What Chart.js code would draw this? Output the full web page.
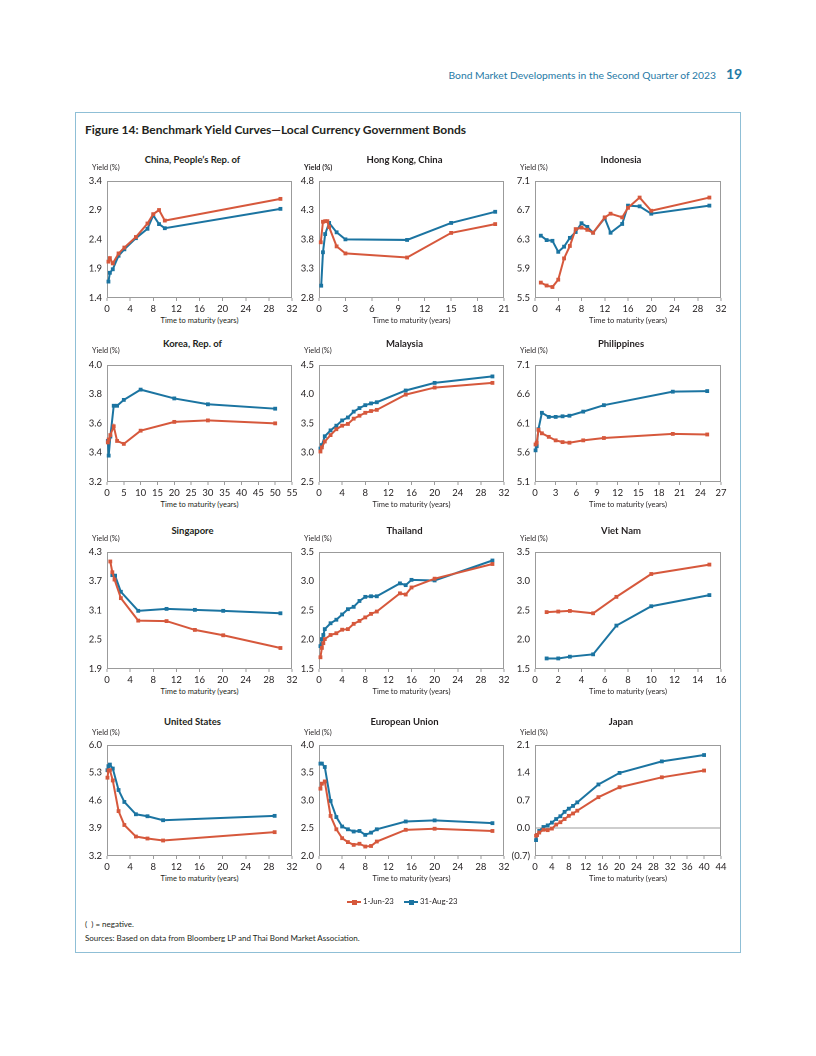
<!DOCTYPE html>
<html><head><meta charset="utf-8">
<script src="https://cdn.jsdelivr.net/npm/chart.js@4.4.1/dist/chart.umd.min.js"></script>
<style>
html,body{margin:0;padding:0;background:#fff;}
body{width:816px;height:1056px;position:relative;font-family:Lato,'Open Sans',sans-serif;color:#231f20;overflow:hidden;}
.abs{position:absolute;white-space:pre;line-height:1;}
canvas{position:absolute;}
</style></head>
<body>
<div class="abs" style="right:100px;top:70px;font-size:10.3px;color:#1f7aa6;">Bond Market Developments in the Second Quarter of 2023</div>
<div class="abs" style="left:726px;top:67px;font-size:14px;font-weight:bold;color:#1f7aa6;">19</div>
<div class="abs" style="left:75px;top:112px;width:664px;height:839px;border:1px solid #8fbfd6;"></div>
<div class="abs" style="left:85px;top:124px;font-size:12px;font-weight:bold;color:#231f20;">Figure 14: Benchmark Yield Curves—Local Currency Government Bonds</div>
<div class="abs" style="left:85px;top:920px;font-size:8px;color:#231f20;">(  ) = negative.</div>
<div class="abs" style="left:85px;top:934px;font-size:8px;color:#231f20;">Sources: Based on data from Bloomberg LP and Thai Bond Market Association.</div>
<script>
// ---------- DATA ----------
const seriesNames = ['1-Jun-23', '31-Aug-23'];

// China, People's Rep. of
const cnTenor = [0.25, 0.5, 1, 2, 3, 5, 7, 8, 9, 10, 30];
const cnJun = [2.02, 2.08, 1.99, 2.16, 2.26, 2.44, 2.67, 2.83, 2.90, 2.72, 3.09];
const cnAug = [1.68, 1.83, 1.89, 2.12, 2.23, 2.42, 2.58, 2.81, 2.66, 2.59, 2.92];

// Hong Kong, China
const hkTenorJun = [0.2, 0.45, 0.7, 0.95, 1.15, 2, 3, 10, 15, 20];
const hkJun = [3.75, 4.10, 4.11, 4.11, 4.01, 3.68, 3.56, 3.49, 3.91, 4.06];
const hkTenorAug = [0.25, 0.45, 0.7, 1.15, 2, 3, 10, 15, 20];
const hkAug = [3.01, 3.58, 3.89, 4.08, 3.92, 3.80, 3.79, 4.08, 4.27];

// Indonesia
const idTenor = [1, 2, 3, 4, 5, 6, 7, 8, 9, 10, 12, 13, 15, 16, 18, 20, 30];
const idJun = [5.71, 5.67, 5.65, 5.75, 6.04, 6.21, 6.44, 6.46, 6.43, 6.39, 6.60, 6.65, 6.60, 6.73, 6.87, 6.69, 6.87];
const idAug = [6.35, 6.29, 6.28, 6.13, 6.20, 6.32, 6.40, 6.52, 6.47, 6.39, 6.59, 6.39, 6.51, 6.76, 6.75, 6.65, 6.76];

// Korea, Rep. of
const krTenor = [0.25, 0.5, 1, 2, 3, 5, 10, 20, 30, 50];
const krJun = [3.47, 3.49, 3.52, 3.58, 3.48, 3.46, 3.55, 3.61, 3.62, 3.60];
const krAug = [3.48, 3.38, 3.51, 3.72, 3.72, 3.76, 3.83, 3.77, 3.73, 3.70];

// Malaysia
const myTenor = [0.25, 0.5, 1, 2, 3, 4, 5, 6, 7, 8, 9, 10, 15, 20, 30];
const myJun = [3.02, 3.09, 3.19, 3.30, 3.40, 3.46, 3.49, 3.58, 3.63, 3.68, 3.71, 3.73, 3.99, 4.11, 4.19];
const myAug = [3.07, 3.13, 3.28, 3.38, 3.46, 3.55, 3.60, 3.70, 3.76, 3.81, 3.84, 3.86, 4.06, 4.19, 4.30];

// Philippines
const phTenor = [0.08, 0.25, 0.5, 1, 2, 3, 4, 5, 7, 10, 20, 25];
const phJun = [5.74, 5.77, 5.99, 5.93, 5.87, 5.81, 5.78, 5.77, 5.81, 5.85, 5.92, 5.91];
const phAug = [5.64, 5.71, 6.00, 6.28, 6.21, 6.21, 6.22, 6.23, 6.30, 6.41, 6.64, 6.65];

// Singapore
const sgTenorJun = [0.57, 0.92, 1.3, 2.4, 5.4, 10.3, 15.2, 20.1, 30];
const sgJun = [4.10, 3.88, 3.73, 3.35, 2.89, 2.88, 2.70, 2.59, 2.33];
const sgTenorAug = [0.92, 1.4, 2.4, 5.4, 10.3, 15.2, 20.1, 30];
const sgAug = [3.82, 3.81, 3.48, 3.09, 3.13, 3.11, 3.09, 3.04];

// Thailand
const thTenor = [0.25, 0.5, 0.75, 1, 2, 3, 4, 5, 6, 7, 8, 9, 10, 14, 15, 16, 20, 30];
const thJun = [1.70, 1.86, 1.94, 2.01, 2.08, 2.11, 2.17, 2.18, 2.27, 2.32, 2.38, 2.44, 2.48, 2.79, 2.77, 2.89, 3.04, 3.29];
const thAug = [1.89, 2.01, 2.08, 2.18, 2.28, 2.34, 2.43, 2.52, 2.56, 2.66, 2.73, 2.74, 2.74, 2.96, 2.93, 3.02, 3.01, 3.35];

// Viet Nam
const vnTenor = [1, 2, 3, 5, 7, 10, 15];
const vnJun = [2.47, 2.48, 2.49, 2.45, 2.73, 3.12, 3.28];
const vnAug = [1.68, 1.68, 1.71, 1.75, 2.24, 2.57, 2.76];

// United States
const usTenor = [0.08, 0.25, 0.5, 1, 2, 3, 5, 7, 9.7, 29];
const usJun = [5.17, 5.35, 5.36, 5.10, 4.33, 3.98, 3.69, 3.64, 3.59, 3.80];
const usAug = [5.36, 5.46, 5.50, 5.40, 4.86, 4.56, 4.25, 4.20, 4.10, 4.21];

// European Union
const euTenor = [0.25, 0.5, 1, 2, 3, 4, 5, 6, 7, 8, 9, 10, 15, 20, 30];
const euJun = [3.21, 3.30, 3.34, 2.72, 2.48, 2.32, 2.25, 2.20, 2.22, 2.17, 2.18, 2.26, 2.47, 2.49, 2.45];
const euAug = [3.66, 3.66, 3.60, 2.99, 2.70, 2.53, 2.48, 2.44, 2.45, 2.38, 2.42, 2.48, 2.62, 2.64, 2.59];

// Japan
const jpTenor = [0.25, 0.5, 1, 2, 3, 4, 5, 6, 7, 8, 9, 10, 15, 20, 30, 40];
const jpJun = [-0.19, -0.17, -0.11, -0.04, -0.05, -0.01, 0.09, 0.15, 0.23, 0.31, 0.37, 0.44, 0.78, 1.03, 1.28, 1.45];
const jpAug = [-0.30, -0.17, -0.07, 0.03, 0.07, 0.14, 0.23, 0.30, 0.41, 0.49, 0.56, 0.65, 1.10, 1.39, 1.68, 1.84];

// Axis ranges [min, max, step]
const cnX = [0, 32, 4], cnY = [1.4, 3.4, 0.5];
const hkX = [0, 21, 3], hkY = [2.8, 4.8, 0.5];
const idX = [0, 32, 4], idY = [5.5, 7.1, 0.4];
const krX = [0, 55, 5], krY = [3.2, 4.0, 0.2];
const myX = [0, 32, 4], myY = [2.5, 4.5, 0.5];
const phX = [0, 27, 3], phY = [5.1, 7.1, 0.5];
const sgX = [0, 32, 4], sgY = [1.9, 4.3, 0.6];
const thX = [0, 32, 4], thY = [1.5, 3.5, 0.5];
const vnX = [0, 16, 2], vnY = [1.5, 3.5, 0.5];
const usX = [0, 32, 4], usY = [3.2, 6.0, 0.7];
const euX = [0, 32, 4], euY = [2.0, 4.0, 0.5];
const jpX = [0, 44, 4], jpY = [-0.7, 2.1, 0.7];

// ---------- LAYOUT ----------
const RED = '#d6583c', BLUE = '#1b74a1';
const FONT = "Lato, 'Open Sans', sans-serif";
const rows = [
  {T: 178, B: 298, titleY: 160, yieldY: 168},
  {T: 362, B: 482, titleY: 344, yieldY: 351},
  {T: 549, B: 669, titleY: 531, yieldY: 539},
  {T: 742, B: 856, titleY: 722, yieldY: 733}
];
const cols = [{L: 107, R: 292}, {L: 319, R: 504}, {L: 535, R: 721}];

const panels = [
  {title: 'China, People\u2019s Rep. of', r: 0, c: 0, xr: cnX, yr: cnY, jun: [cnTenor, cnJun], aug: [cnTenor, cnAug]},
  {title: 'Hong Kong, China', r: 0, c: 1, xr: hkX, yr: hkY, jun: [hkTenorJun, hkJun], aug: [hkTenorAug, hkAug], boldYield: true},
  {title: 'Indonesia', r: 0, c: 2, xr: idX, yr: idY, jun: [idTenor, idJun], aug: [idTenor, idAug]},
  {title: 'Korea, Rep. of', r: 1, c: 0, xr: krX, yr: krY, jun: [krTenor, krJun], aug: [krTenor, krAug]},
  {title: 'Malaysia', r: 1, c: 1, xr: myX, yr: myY, jun: [myTenor, myJun], aug: [myTenor, myAug]},
  {title: 'Philippines', r: 1, c: 2, xr: phX, yr: phY, jun: [phTenor, phJun], aug: [phTenor, phAug]},
  {title: 'Singapore', r: 2, c: 0, xr: sgX, yr: sgY, jun: [sgTenorJun, sgJun], aug: [sgTenorAug, sgAug]},
  {title: 'Thailand', r: 2, c: 1, xr: thX, yr: thY, jun: [thTenor, thJun], aug: [thTenor, thAug]},
  {title: 'Viet Nam', r: 2, c: 2, xr: vnX, yr: vnY, jun: [vnTenor, vnJun], aug: [vnTenor, vnAug]},
  {title: 'United States', r: 3, c: 0, xr: usX, yr: usY, jun: [usTenor, usJun], aug: [usTenor, usAug]},
  {title: 'European Union', r: 3, c: 1, xr: euX, yr: euY, jun: [euTenor, euJun], aug: [euTenor, euAug]},
  {title: 'Japan', r: 3, c: 2, xr: jpX, yr: jpY, jun: [jpTenor, jpJun], aug: [jpTenor, jpAug], neg: true}
];

function addText(txt, x, y, style, align) {
  const d = document.createElement('div');
  d.className = 'abs';
  d.textContent = txt;
  d.style.left = x + 'px';
  d.style.top = y + 'px';
  d.style.color = '#231f20';
  d.style.transform = align === 'center' ? 'translate(-50%,-50%)' : 'translateY(-50%)';
  Object.assign(d.style, style);
  document.body.appendChild(d);
  return d;
}

const framePlugin = {
  id: 'frame',
  beforeDatasetsDraw(chart) {
    const {ctx, chartArea: a} = chart;
    ctx.save();
    ctx.strokeStyle = '#9b9b9b';
    ctx.lineWidth = 1;
    ctx.strokeRect(Math.round(a.left) + 0.5, Math.round(a.top) + 0.5, Math.round(a.right - a.left) - 1, Math.round(a.bottom - a.top) - 1);
    ctx.restore();
  }
};

function pts(xs, ys) { return xs.map((x, i) => ({x: x, y: ys[i]})); }

const PADL = 30, PADT = 8, PADR = 8, XH = 16;

panels.forEach(p => {
  const row = rows[p.r], col = cols[p.c];
  const L = col.L, R = col.R, T = row.T, B = row.B;
  const W = R - L + PADL + PADR, H = B - T + PADT + XH;
  const cv = document.createElement('canvas');
  cv.width = W; cv.height = H;
  cv.style.left = (L - PADL) + 'px';
  cv.style.top = (T - PADT) + 'px';
  cv.style.width = W + 'px'; cv.style.height = H + 'px';
  document.body.appendChild(cv);

  addText(p.title, (L + R) / 2 - 7, row.titleY, {fontSize: '9.5px', fontWeight: 'bold'}, 'center');
  addText('Yield (%)', L - 15, row.yieldY, {fontSize: '7.3px', fontWeight: p.boldYield ? 'bold' : 'normal'}, 'left');
  addText('Time to maturity (years)', (L + R) / 2, B + 23, {fontSize: '7.5px'}, 'center');

  const ds = (data, color) => ({
    data: data, borderColor: color, backgroundColor: color, borderWidth: 2,
    pointStyle: 'rect', pointRadius: 2.7, pointBorderWidth: 0, pointBackgroundColor: color,
    tension: 0, clip: false
  });

  new Chart(cv, {
    type: 'line',
    data: {datasets: [
      Object.assign(ds(pts(p.jun[0], p.jun[1]), RED), {label: seriesNames[0]}),
      Object.assign(ds(pts(p.aug[0], p.aug[1]), BLUE), {label: seriesNames[1]})
    ]},
    options: {
      responsive: false, animation: false, devicePixelRatio: 2,
      layout: {padding: {left: 0, top: PADT, right: PADR, bottom: 0}},
      plugins: {legend: {display: false}, tooltip: {enabled: false}},
      scales: {
        x: {
          type: 'linear', min: p.xr[0], max: p.xr[1],
          ticks: {stepSize: p.xr[2], autoSkip: false, maxRotation: 0, padding: 2,
            font: {family: FONT, size: 9.5}, color: '#231f20', callback: v => String(v)},
          grid: {display: true, drawOnChartArea: false, drawTicks: true, tickLength: 3, tickColor: '#9b9b9b'},
          border: {display: false},
          afterFit: s => { s.height = XH; }
        },
        y: {
          type: 'linear', min: p.yr[0], max: p.yr[1],
          ticks: {stepSize: p.yr[2], autoSkip: false, padding: 5,
            font: {family: FONT, size: 9.5}, color: '#231f20',
            callback: v => (v < -1e-9 ? '(' + Math.abs(v).toFixed(1) + ')' : Math.abs(v) < 1e-9 ? '0.0' : v.toFixed(1))},
          grid: {display: !!p.neg, drawOnChartArea: !!p.neg, drawTicks: false,
            color: ctx => (p.neg && ctx.tick && Math.abs(ctx.tick.value) < 1e-9 ? '#9b9b9b' : 'rgba(0,0,0,0)')},
          border: {display: false},
          afterFit: s => { s.width = PADL; }
        }
      }
    },
    plugins: [framePlugin]
  });
});

// Legend
function legendItem(x, color, label) {
  const line = document.createElement('div');
  line.className = 'abs';
  Object.assign(line.style, {left: x + 'px', top: '901px', width: '14px', height: '2px', background: color});
  document.body.appendChild(line);
  const sq = document.createElement('div');
  sq.className = 'abs';
  Object.assign(sq.style, {left: (x + 4.5) + 'px', top: '899.5px', width: '5px', height: '5px', background: color});
  document.body.appendChild(sq);
  addText(label, x + 16, 902, {fontSize: '7.8px'}, 'left');
}
legendItem(347, RED, seriesNames[0]);
legendItem(404, BLUE, seriesNames[1]);
</script>
</body></html>
